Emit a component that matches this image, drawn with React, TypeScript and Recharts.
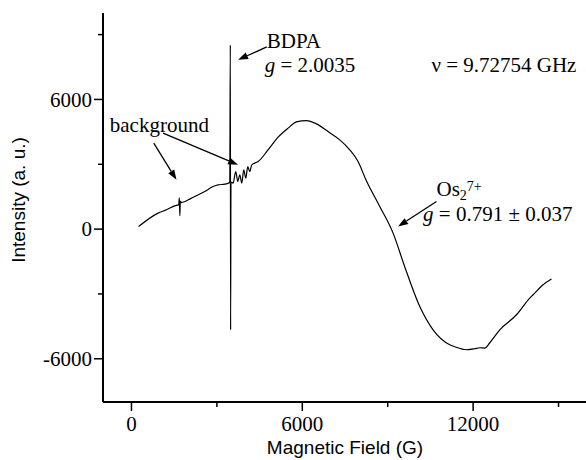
import React from 'react';
import { LineChart, Line, XAxis, YAxis, ReferenceLine, ReferenceDot } from 'recharts';

// EPR spectrum: field (G) vs intensity (a. u.)
const fieldG = [
  250, 934, 1229, 1521, 1660, 1680, 1700, 1715, 1750, 2107, 2575, 2866, 3042, 3277, 3453,
  3472, 3482, 3495, 3569, 3663, 3734, 3804, 3874, 3944, 4015, 4085, 4155, 4225, 4331, 4447,
  4798, 5150, 5500, 5795, 6147, 6498, 6906, 7316, 7668, 7959, 8230, 8721, 9189, 9600, 10126,
  10594, 11180, 11356, 11767, 12058, 12234, 12410, 12586, 12937, 13523, 13990, 14107, 14458, 14752,
];
const intensity = [
  120, 740, 893, 1078, 1130, 1450, 620, 1300, 1230, 1434, 1738, 1970, 2049, 2080, 2155,
  8520, -4660, 2180, 2128, 2664, 2202, 2512, 2128, 2743, 2359, 2895, 2664, 2974, 3053, 3127,
  3668, 4255, 4672, 4963, 5023, 4870, 4514, 4130, 3668, 3127, 2300, 1046, -185, -1750, -3580,
  -4658, -5352, -5444, -5583, -5536, -5490, -5504, -5259, -4658, -3964, -3191, -3039, -2576, -2313,
];

const xTicks = [0, 3000, 6000, 9000, 12000, 15000];
const yTicks = [-6000, -3000, 0, 3000, 6000, 9000];

// annotation arrows, in data units [field, intensity]
const arrows = [
  { from: [4752, 8432], to: [3744, 7831] },
  { from: [783, 3978], to: [1581, 2280] },
  { from: [1110, 4440], to: [3744, 2974] },
  { from: [10713, 1277], to: [9364, 120] },
];

const data = fieldG.map((f, i) => ({ field: f, intensity: intensity[i] }));

const SERIF = '"Liberation Serif", "Times New Roman", serif';
const SANS = '"Liberation Sans", Arial, sans-serif';

const XTick = ({ x, y, payload }: any) => {
  const major = payload.value % 6000 === 0;
  return (
    <g>
      <line x1={x} x2={x} y1={y} y2={y + (major ? 9 : 5)} stroke="#000" strokeWidth={1.5} />
      {major && (
        <text x={x} y={y + 29} textAnchor="middle" fontFamily={SERIF} fontSize={21} fill="#000">
          {payload.value}
        </text>
      )}
    </g>
  );
};

const YTick = ({ x, y, payload }: any) => {
  const major = payload.value % 6000 === 0;
  return (
    <g>
      <line x1={x} x2={x - (major ? 9 : 5)} y1={y} y2={y} stroke="#000" strokeWidth={1.5} />
      {major && (
        <text x={x - 11} y={y} dy="0.35em" textAnchor="end" fontFamily={SERIF} fontSize={21} fill="#000">
          {payload.value}
        </text>
      )}
    </g>
  );
};

const arrowShape = (p: any) => {
  const { x1, y1, x2, y2 } = p;
  const dx = x2 - x1;
  const dy = y2 - y1;
  const len = Math.hypot(dx, dy) || 1;
  const ux = dx / len;
  const uy = dy / len;
  const hl = 10;
  const hw = 3.5;
  const bx = x2 - ux * hl;
  const by = y2 - uy * hl;
  return (
    <g>
      <line x1={x1} y1={y1} x2={bx} y2={by} stroke="#000" strokeWidth={1.3} />
      <polygon
        points={`${x2},${y2} ${bx - uy * hw},${by + ux * hw} ${bx + uy * hw},${by - ux * hw}`}
        fill="#000"
      />
    </g>
  );
};

const note = (content: React.ReactNode) => (p: any) => (
  <text x={p.cx} y={p.cy} fontFamily={SERIF} fontSize={21} fill="#000">
    {content}
  </text>
);

export default function App() {
  return (
    <div
      style={{
        position: 'absolute',
        left: 0,
        top: 0,
        width: 586,
        height: 460,
        overflow: 'hidden',
        background: '#fff',
      }}
    >
      <LineChart width={600} height={460} data={data} margin={{ top: 13, right: 13, bottom: 8, left: 8 }}>
        <XAxis
          type="number"
          dataKey="field"
          domain={[-1000, 16000]}
          ticks={xTicks}
          interval={0}
          height={50}
          tickSize={0}
          tickMargin={0}
          tickLine={false}
          tick={<XTick />}
          axisLine={{ stroke: '#000', strokeWidth: 2 }}
          label={{
            content: () => (
              <text x={345} y={454} textAnchor="middle" fontFamily={SANS} fontSize={19} fill="#000">
                Magnetic Field (G)
              </text>
            ),
          }}
        />
        <YAxis
          type="number"
          domain={[-8000, 10000]}
          ticks={yTicks}
          interval={0}
          width={95}
          tickSize={0}
          tickMargin={0}
          tickLine={false}
          tick={<YTick />}
          axisLine={{ stroke: '#000', strokeWidth: 2 }}
          label={{
            content: () => (
              <text
                transform="translate(25,200) rotate(-90)"
                textAnchor="middle"
                fontFamily={SANS}
                fontSize={19}
                fill="#000"
              >
                Intensity (a. u.)
              </text>
            ),
          }}
        />
        <Line
          type="monotone"
          dataKey="intensity"
          stroke="#000"
          strokeWidth={1.2}
          dot={false}
          isAnimationActive={false}
        />
        {arrows.map((a, i) => (
          <ReferenceLine
            key={i}
            segment={[
              { x: a.from[0], y: a.from[1] },
              { x: a.to[0], y: a.to[1] },
            ]}
            ifOverflow="visible"
            shape={arrowShape}
          />
        ))}
        <ReferenceDot x={4752} y={8372} r={0} ifOverflow="visible" shape={note('BDPA')} />
        <ReferenceDot
          x={4682}
          y={7290}
          r={0}
          ifOverflow="visible"
          shape={note(<><tspan fontStyle="italic">g</tspan> = 2.0035</>)}
        />
        <ReferenceDot x={10537} y={7290} r={0} ifOverflow="visible" shape={note('ν = 9.72754 GHz')} />
        <ReferenceDot x={-762} y={4510} r={0} ifOverflow="visible" shape={note('background')} />
        <ReferenceDot
          x={10713}
          y={1540}
          r={0}
          ifOverflow="visible"
          shape={note(
            <>
              Os
              <tspan dy={4} fontSize={14}>2</tspan>
              <tspan dy={-9} fontSize={14}>7+</tspan>
            </>
          )}
        />
        <ReferenceDot
          x={10242}
          y={384}
          r={0}
          ifOverflow="visible"
          shape={note(<><tspan fontStyle="italic">g</tspan> = 0.791 ± 0.037</>)}
        />
      </LineChart>
    </div>
  );
}
